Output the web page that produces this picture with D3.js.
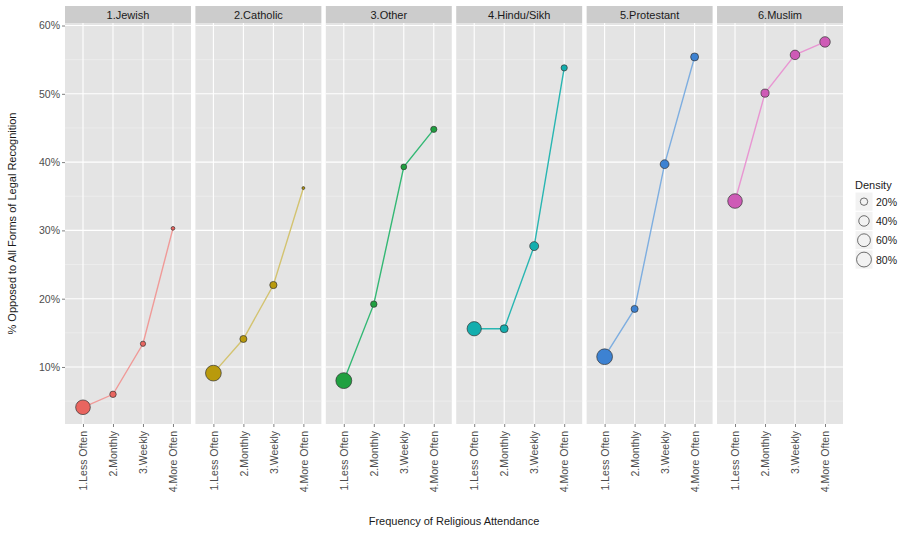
<!DOCTYPE html>
<html>
<head>
<meta charset="utf-8">
<script src="https://cdn.jsdelivr.net/npm/d3@7"></script>
<style>
  html, body { margin: 0; padding: 0; background: #fff; }
  svg text { font-family: "Liberation Sans", Arial, sans-serif; }
</style>
</head>
<body>
<svg id="chart" width="909" height="533"></svg>
<script>
// Religious groups (facets) and attendance categories (x axis)
const groups = ["1.Jewish", "2.Catholic", "3.Other", "4.Hindu/Sikh", "5.Protestant", "6.Muslim"];
const attendance = ["1.Less Often", "2.Monthly", "3.Weekly", "4.More Often"];

// Share opposed to all forms of legal recognition, one row per group
const opposed = [
  [0.041, 0.060, 0.134, 0.303],
  [0.091, 0.141, 0.220, 0.362],
  [0.080, 0.192, 0.393, 0.448],
  [0.156, 0.156, 0.277, 0.538],
  [0.115, 0.185, 0.397, 0.554],
  [0.343, 0.501, 0.557, 0.576]
];

// Density of respondents in each cell (point size)
const density = [
  [0.78, 0.15, 0.10, 0.05],
  [0.90, 0.18, 0.19, 0.03],
  [0.92, 0.15, 0.12, 0.14],
  [0.74, 0.23, 0.29, 0.14],
  [0.90, 0.18, 0.28, 0.23],
  [0.77, 0.24, 0.33, 0.40]
];

// point fills and (lighter) connecting line colours per group
const pointColors = ["#E9655F", "#B99A0C", "#20A040", "#13AEAE", "#3D82D2", "#CE5AB6"];
const lineColors = ["#F09A98", "#D3C370", "#33B874", "#28B6B2", "#7EAEE0", "#E896D2"];
const legendBreaks = [0.2, 0.4, 0.6, 0.8];
const yTicks = [0.1, 0.2, 0.3, 0.4, 0.5, 0.6];
const yMinor = [0.05, 0.15, 0.25, 0.35, 0.45, 0.55];

const svg = d3.select("#chart");

const plotTop = 23, plotBottom = 424, stripH = 17;
const y = d3.scaleLinear().domain([0.0165, 0.6037]).range([plotBottom, plotTop]);
const facet = d3.scaleBand().domain(groups).range([65, 843]).paddingInner(0.034);
const bw = facet.bandwidth();
const x = d3.scalePoint().domain(attendance).range([0, bw]).padding(0.6);
const size = d3.scaleSqrt().domain([0, 1]).range([0, 8.3]);
const pct = d3.format(".0%");

groups.forEach((g, gi) => {
  const p = svg.append("g").attr("transform", `translate(${facet(g)},0)`);

  // strip
  p.append("rect").attr("x", 0).attr("y", plotTop - stripH).attr("width", bw).attr("height", stripH)
    .attr("fill", "#CCCCCC");
  p.append("text").attr("x", bw / 2).attr("y", plotTop - stripH / 2 + 4)
    .attr("text-anchor", "middle").attr("font-size", 11).attr("fill", "#1A1A1A").text(g);

  // panel background and grid
  p.append("rect").attr("x", 0).attr("y", plotTop).attr("width", bw).attr("height", plotBottom - plotTop)
    .attr("fill", "#E4E4E4");
  p.selectAll(".minor").data(yMinor).join("line")
    .attr("x1", 0).attr("x2", bw).attr("y1", d => y(d)).attr("y2", d => y(d))
    .attr("stroke", "#F2F2F2").attr("stroke-width", 0.6);
  p.selectAll(".major").data(yTicks).join("line")
    .attr("x1", 0).attr("x2", bw).attr("y1", d => y(d)).attr("y2", d => y(d))
    .attr("stroke", "#FFFFFF").attr("stroke-width", 1.1);
  p.selectAll(".vmajor").data(attendance).join("line")
    .attr("x1", d => x(d)).attr("x2", d => x(d)).attr("y1", plotTop).attr("y2", plotBottom)
    .attr("stroke", "#FFFFFF").attr("stroke-width", 1.1);

  // x axis
  const xAxis = p.append("g").attr("transform", `translate(0,${plotBottom})`)
    .call(d3.axisBottom(x).tickSize(3).tickPadding(4));
  xAxis.select(".domain").remove();
  xAxis.selectAll(".tick line").attr("stroke", "#7F7F7F");
  xAxis.selectAll(".tick text")
    .attr("font-size", 10.5).attr("fill", "#4D4D4D")
    .attr("transform", "rotate(-90)")
    .attr("text-anchor", "end").attr("x", -7).attr("y", 0).attr("dy", "0.35em");

  // series
  const rows = attendance.map((a, i) => ({ a, v: opposed[gi][i], d: density[gi][i] }));
  p.append("path").datum(rows)
    .attr("d", d3.line().x(r => x(r.a)).y(r => y(r.v)))
    .attr("fill", "none").attr("stroke", lineColors[gi]).attr("stroke-width", 1.4);
  p.selectAll(".pt").data(rows).join("circle")
    .attr("cx", r => x(r.a)).attr("cy", r => y(r.v)).attr("r", r => size(r.d))
    .attr("fill", pointColors[gi]).attr("stroke", "#333333").attr("stroke-width", 0.7);
});

// y axis on the first facet
const yAxis = svg.append("g").attr("transform", `translate(${facet(groups[0])},0)`)
  .call(d3.axisLeft(y).tickValues(yTicks).tickFormat(pct).tickSize(3).tickPadding(2));
yAxis.select(".domain").remove();
yAxis.selectAll(".tick line").attr("stroke", "#7F7F7F");
yAxis.selectAll(".tick text").attr("font-size", 10.5).attr("fill", "#4D4D4D");

// axis titles
svg.append("text").attr("x", 454).attr("y", 525).attr("text-anchor", "middle")
  .attr("font-size", 11).attr("fill", "#1A1A1A").text("Frequency of Religious Attendance");
svg.append("text").attr("transform", `translate(16,${(plotTop + plotBottom) / 2}) rotate(-90)`)
  .attr("text-anchor", "middle").attr("font-size", 11).attr("fill", "#1A1A1A")
  .text("% Opposed to All Forms of Legal Recognition");

// size legend
const lg = svg.append("g").attr("transform", "translate(855,0)");
lg.append("text").attr("x", 0).attr("y", 189).attr("font-size", 11).attr("fill", "#1A1A1A").text("Density");
const keyH = 19.3;
const keys = lg.selectAll(".key").data(legendBreaks).join("g")
  .attr("transform", (d, i) => `translate(0,${192 + i * keyH})`);
keys.append("rect").attr("x", 0).attr("y", 0).attr("width", 18).attr("height", keyH)
  .attr("fill", "#F2F2F2").attr("stroke", "#FFFFFF");
keys.append("circle").attr("cx", 9).attr("cy", keyH / 2).attr("r", d => size(d))
  .attr("fill", "none").attr("stroke", "#333333").attr("stroke-width", 0.7);
keys.append("text").attr("x", 21).attr("y", keyH / 2 + 4).attr("font-size", 10.5)
  .attr("fill", "#1A1A1A").text(d => pct(d));
</script>
</body>
</html>
